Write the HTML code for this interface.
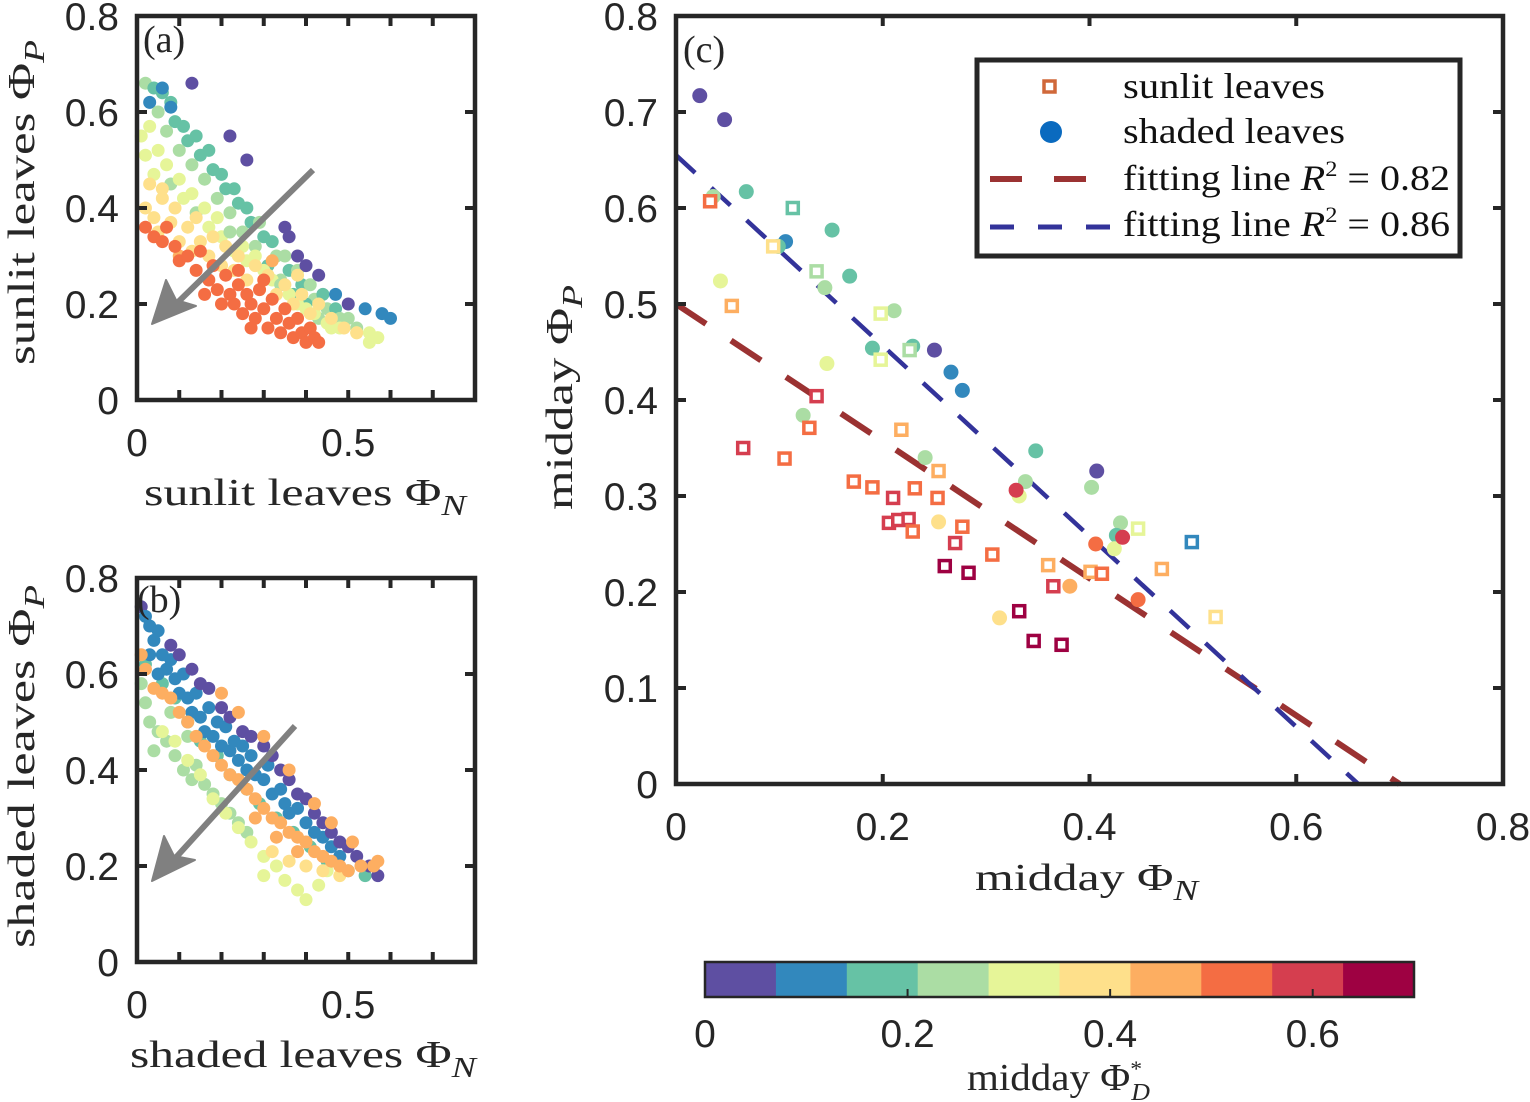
<!DOCTYPE html>
<html><head><meta charset="utf-8"><style>
html,body{margin:0;padding:0;background:#fff;}
svg{display:block;}
.tk{font-family:"Liberation Sans",sans-serif;font-size:39px;fill:#262626;}
.lb{font-family:"Liberation Serif",serif;font-size:38px;fill:#262626;}
.lg{font-family:"Liberation Serif",serif;font-size:36px;fill:#111;}
</style></head><body>
<svg id="fig" width="1530" height="1102" viewBox="0 0 1530 1102" xmlns="http://www.w3.org/2000/svg">
<g id="marksA"></g>
<g id="marksB"></g>
<g id="marksC"></g>
<g id="axes"></g>
<g stroke="#808080" fill="#808080">
<line x1="313" y1="170" x2="172" y2="308" stroke-width="6"/>
<polygon points="152,324 166,280 176,300 196,306" stroke-width="2" stroke-linejoin="round"/>
</g>
<g stroke="#808080" fill="#808080">
<line x1="295" y1="726" x2="170" y2="864" stroke-width="6"/>
<polygon points="152,881 164,836 174,856 195,860" stroke-width="2" stroke-linejoin="round"/>
</g>
<text class="lb" x="143" y="52" font-size="34">(a)</text>
<text class="lb" x="137" y="612" font-size="34">(b)</text>
<text class="lb" x="683" y="62" font-size="34">(c)</text>
<text class="lb" x="144" y="505" textLength="322" lengthAdjust="spacingAndGlyphs">sunlit leaves Φ<tspan font-style="italic" font-size="28" dy="10">N</tspan></text>
<text class="lb" x="130" y="1067" textLength="346" lengthAdjust="spacingAndGlyphs">shaded leaves Φ<tspan font-style="italic" font-size="28" dy="10">N</tspan></text>
<text class="lb" x="975" y="890" textLength="223" lengthAdjust="spacingAndGlyphs">midday Φ<tspan font-style="italic" font-size="28" dy="10">N</tspan></text>
<text class="lb" transform="translate(34,365) rotate(-90)" textLength="325" lengthAdjust="spacingAndGlyphs">sunlit leaves Φ<tspan font-style="italic" font-size="28" dy="10">P</tspan></text>
<text class="lb" transform="translate(34,948) rotate(-90)" textLength="363" lengthAdjust="spacingAndGlyphs">shaded leaves Φ<tspan font-style="italic" font-size="28" dy="10">P</tspan></text>
<text class="lb" transform="translate(572,510) rotate(-90)" textLength="225" lengthAdjust="spacingAndGlyphs">midday Φ<tspan font-style="italic" font-size="28" dy="10">P</tspan></text>
<g>
<rect x="977" y="60" width="483" height="196" fill="#fff" stroke="#262626" stroke-width="5"/>
<rect x="1044" y="81" width="11" height="11" fill="none" stroke="#d0683a" stroke-width="3.5"/>
<text class="lg" x="1123" y="98" textLength="202" lengthAdjust="spacingAndGlyphs">sunlit leaves</text>
<circle cx="1051" cy="132" r="11" fill="#0a6abf"/>
<text class="lg" x="1123" y="143" textLength="222" lengthAdjust="spacingAndGlyphs">shaded leaves</text>
<line x1="990" y1="179" x2="1087" y2="179" stroke="#9b3232" stroke-width="6" stroke-dasharray="32,32"/>
<text class="lg" x="1123" y="190" textLength="327" lengthAdjust="spacingAndGlyphs">fitting line <tspan font-style="italic">R</tspan><tspan font-size="22" dy="-14">2</tspan><tspan dy="14"> = 0.82</tspan></text>
<line x1="990" y1="227" x2="1110" y2="227" stroke="#33339a" stroke-width="5" stroke-dasharray="24,24"/>
<text class="lg" x="1123" y="236" textLength="327" lengthAdjust="spacingAndGlyphs">fitting line <tspan font-style="italic">R</tspan><tspan font-size="22" dy="-14">2</tspan><tspan dy="14"> = 0.86</tspan></text>
</g>
<g id="cbar"></g>
<text class="lb" x="967" y="1090" font-size="33" textLength="183" lengthAdjust="spacingAndGlyphs">midday Φ<tspan font-size="22" dy="-14">*</tspan><tspan font-style="italic" font-size="24" dx="-10" dy="24">D</tspan></text>
</svg>
<script>
const NS="http://www.w3.org/2000/svg";
const palette=["#5e4fa2","#3288bd","#66c2a5","#abdda4","#e6f598","#fee08b","#fdae61","#f46d43","#d53e4f","#9e0142"];
// Panel (c) data: [PhiN, PhiP, colorClass]
const shadedC=[[.023,.717,0],[.047,.692,0],[.068,.617,2],[.036,.612,3],[.106,.565,1],[.099,.56,2],[.043,.524,4],[.151,.577,2],[.168,.529,2],[.144,.517,3],[.211,.493,3],[.19,.454,2],[.229,.456,2],[.25,.452,0],[.266,.429,1],[.277,.41,1],[.146,.438,4],[.123,.384,3],[.241,.34,3],[.348,.347,2],[.407,.326,0],[.338,.315,3],[.402,.309,3],[.332,.3,4],[.329,.306,8],[.43,.272,3],[.426,.259,2],[.424,.245,4],[.432,.257,8],[.406,.25,7],[.254,.273,5],[.381,.206,6],[.447,.192,7],[.313,.173,5]];
const sunlitC=[[.033,.607,7],[.113,.6,2],[.094,.56,5],[.136,.534,3],[.054,.498,6],[.198,.49,4],[.198,.442,4],[.226,.452,3],[.136,.404,8],[.129,.371,7],[.218,.369,6],[.065,.35,8],[.105,.339,7],[.172,.315,7],[.19,.309,7],[.231,.308,7],[.254,.326,6],[.253,.298,7],[.21,.298,8],[.206,.272,8],[.215,.275,8],[.225,.276,8],[.229,.263,7],[.277,.268,7],[.27,.251,8],[.26,.227,9],[.283,.22,9],[.306,.239,7],[.36,.228,6],[.365,.206,8],[.401,.221,6],[.412,.219,7],[.47,.224,6],[.447,.266,4],[.499,.252,1],[.522,.174,5],[.332,.18,9],[.346,.149,9],[.373,.145,9]];
const fitRed=[[0,.5],[.7,0]];
const fitBlue=[[0,.655],[.66,0]];
// Panel (a) data
const pointsA=[[.02,.66,3],[.04,.65,2],[.03,.62,1],[.06,.64,2],[.05,.60,3],[.08,.62,2],[.09,.58,2],[.07,.56,3],[.11,.57,2],[.12,.54,2],[.10,.52,3],[.14,.55,2],[.15,.51,2],[.13,.49,3],[.17,.52,2],[.18,.48,2],[.16,.46,3],[.20,.47,2],[.21,.44,2],[.19,.42,3],[.23,.44,2],[.24,.41,2],[.22,.39,3],[.26,.40,2],[.27,.37,2],[.25,.35,3],[.29,.37,3],[.30,.34,2],[.28,.32,3],[.32,.33,2],[.33,.30,3],[.31,.28,2],[.35,.30,3],[.36,.27,2],[.34,.25,3],[.38,.27,3],[.39,.24,2],[.37,.22,2],[.41,.24,3],[.42,.21,3],[.40,.20,2],[.44,.22,2],[.45,.19,3],[.43,.17,3],[.47,.19,2],[.48,.17,3],[.46,.15,4],[.50,.17,3],[.52,.15,3],[.55,.14,4],[.57,.13,4],[.60,.17,1],[.58,.18,1],[.54,.19,1],[.50,.20,0],[.47,.22,1],[.43,.26,0],[.40,.28,0],[.38,.30,0],[.36,.34,0],[.35,.36,0],[.26,.50,0],[.22,.55,0],[.13,.66,0],[.06,.65,1],[.08,.61,1],
[.01,.55,4],[.03,.57,4],[.02,.51,4],[.05,.52,4],[.04,.47,4],[.07,.49,4],[.08,.45,3],[.10,.46,4],[.11,.42,4],[.13,.43,4],[.14,.39,3],[.16,.40,4],[.17,.36,4],[.19,.38,4],[.20,.34,4],[.22,.35,3],[.23,.31,4],[.25,.32,4],[.26,.29,4],[.28,.30,4],[.30,.27,4],[.32,.25,4],[.34,.24,3],[.36,.22,4],[.38,.20,4],[.40,.19,4],[.42,.18,4],[.45,.16,4],[.48,.15,4],[.52,.14,4],[.55,.12,4],
[.02,.40,5],[.04,.38,5],[.06,.42,5],[.05,.35,5],[.08,.37,5],[.09,.40,5],[.10,.33,5],[.12,.36,5],[.13,.31,5],[.14,.38,5],[.15,.33,5],[.17,.30,5],[.18,.34,5],[.20,.28,5],[.21,.32,5],[.23,.27,5],[.24,.30,5],[.26,.25,5],[.28,.28,5],[.29,.23,5],[.31,.26,5],[.33,.22,5],[.35,.24,5],[.37,.20,5],[.39,.22,5],[.41,.18,5],[.43,.20,5],[.46,.17,5],[.49,.15,5],[.52,.14,5],[.38,.26,5],[.32,.29,6],[.10,.30,6],[.06,.44,5],[.03,.45,5],
[.02,.36,7],[.04,.34,7],[.06,.33,7],[.07,.36,7],[.09,.32,7],[.10,.29,7],[.12,.30,7],[.14,.27,7],[.15,.31,7],[.17,.25,7],[.18,.28,7],[.19,.23,7],[.21,.26,7],[.22,.22,7],[.23,.20,7],[.24,.24,7],[.25,.18,7],[.26,.22,7],[.27,.20,7],[.28,.17,7],[.29,.23,7],[.30,.19,7],[.31,.15,7],[.32,.21,7],[.33,.17,7],[.34,.14,7],[.35,.19,7],[.36,.16,7],[.37,.13,7],[.38,.17,7],[.39,.14,7],[.40,.12,7],[.41,.15,7],[.42,.13,7],[.43,.12,7],[.20,.20,7],[.24,.27,7],[.27,.15,7],[.30,.25,7],[.16,.22,7]];
// Panel (b) data
const pointsB=[[.02,.62,2],[.06,.58,2],[.09,.55,2],[.12,.50,2],[.15,.46,2],[.19,.43,2],[.22,.39,2],[.26,.36,2],[.29,.33,2],[.33,.30,2],[.37,.27,2],[.41,.24,2],[.45,.21,2],[.50,.19,2],[.54,.18,2],
[.01,.58,3],[.02,.54,3],[.03,.50,3],[.05,.48,3],[.07,.46,3],[.04,.44,3],[.09,.43,3],[.11,.40,3],[.13,.38,3],[.14,.41,3],[.16,.37,3],[.18,.35,3],[.20,.33,3],[.22,.31,3],[.24,.29,3],[.26,.27,3],[.08,.52,3],[.12,.47,3],
[.06,.48,4],[.09,.46,4],[.12,.42,4],[.15,.39,4],[.18,.34,4],[.21,.31,4],[.24,.28,4],[.27,.25,4],[.30,.22,4],[.33,.20,4],[.35,.17,4],[.38,.15,4],[.40,.13,4],[.43,.16,4],[.45,.19,4],[.30,.18,4],
[.32,.23,5],[.36,.21,5],[.40,.20,5],[.44,.19,5],[.48,.18,5],
[.01,.74,0],[.02,.72,1],[.03,.70,1],[.04,.67,1],[.03,.64,1],[.05,.69,1],[.06,.64,1],[.07,.61,1],[.05,.60,1],[.08,.63,1],[.09,.59,1],[.10,.56,1],[.11,.60,1],[.12,.55,1],[.13,.52,1],[.14,.56,1],[.15,.51,1],[.16,.48,1],[.17,.53,1],[.18,.47,1],[.19,.50,1],[.20,.45,1],[.21,.49,1],[.22,.44,1],[.23,.46,1],[.24,.42,1],[.25,.45,1],[.26,.40,1],[.27,.43,1],[.28,.39,1],[.30,.38,1],[.31,.41,1],[.32,.35,1],[.34,.36,1],[.35,.33,1],[.36,.31,1],[.38,.32,1],[.40,.29,1],[.42,.27,1],[.44,.26,1],[.46,.24,1],[.48,.22,1],
[.08,.66,0],[.10,.64,0],[.13,.61,0],[.15,.58,0],[.17,.57,0],[.20,.53,0],[.22,.51,0],[.25,.48,0],[.27,.47,0],[.30,.45,0],[.32,.43,0],[.34,.40,0],[.36,.38,0],[.38,.35,0],[.40,.34,0],[.42,.31,0],[.44,.29,0],[.46,.27,0],[.48,.25,0],[.50,.24,0],[.52,.22,0],[.55,.20,0],[.57,.18,0],
[.01,.64,6],[.02,.61,6],[.04,.57,6],[.06,.56,6],[.08,.55,6],[.10,.52,6],[.12,.50,6],[.14,.47,6],[.16,.45,6],[.18,.43,6],[.20,.41,6],[.22,.39,6],[.24,.38,6],[.26,.36,6],[.28,.34,6],[.30,.32,6],[.32,.30,6],[.34,.29,6],[.36,.27,6],[.38,.26,6],[.40,.25,6],[.42,.23,6],[.44,.22,6],[.46,.21,6],[.48,.20,6],[.50,.19,6],[.53,.20,6],[.56,.20,6],[.57,.21,6],[.20,.56,6],[.24,.52,6],[.30,.47,6],[.36,.40,6],[.42,.33,6],[.46,.29,6],[.51,.25,6],[.28,.30,6],[.33,.26,6],[.38,.23,6]];
const ticksSmallY=[0,0.2,0.4,0.6,0.8];
const ticksSmallX=[0,0.5];
const ticksCX=[0,0.2,0.4,0.6,0.8];
const ticksCY=[0,0.1,0.2,0.3,0.4,0.5,0.6,0.7,0.8];
const cbarTicks=[0,0.2,0.4,0.6];
const cbarEdges=[0,0.07,0.14,0.21,0.28,0.35,0.42,0.49,0.56,0.63,0.7];

function mk(tag,attrs,parent){const e=document.createElementNS(NS,tag);for(const k in attrs)e.setAttribute(k,attrs[k]);parent.appendChild(e);return e;}
function scale(d0,d1,r0,r1){return v=>r0+(v-d0)/(d1-d0)*(r1-r0);}
const axA={x:scale(0,0.8,137,475),y:scale(0,0.8,400,16)};
const axB={x:scale(0,0.8,137,475),y:scale(0,0.8,962,578)};
const axC={x:scale(0,0.8,676,1503),y:scale(0,0.8,784,16)};
const cx=scale(0,0.7,705,1414);

function drawDots(g,pts,ax,r,name){
  pts.forEach(p=>{
    const c=mk('circle',{cx:ax.x(p[0]),cy:ax.y(p[1]),r:r,fill:palette[p[2]]},g);
    
    
  });
}
drawDots(document.getElementById('marksA'),pointsA,axA,6.5,'sunlit-point');
drawDots(document.getElementById('marksB'),pointsB,axB,6.5,'shaded-point');
const gC=document.getElementById('marksC');
const lr=mk('line',{x1:axC.x(fitRed[0][0]),y1:axC.y(fitRed[0][1]),x2:axC.x(fitRed[1][0]),y2:axC.y(fitRed[1][1]),stroke:'#9b3232','stroke-width':6,'stroke-dasharray':'36,30'},gC);


const lb=mk('line',{x1:axC.x(fitBlue[0][0]),y1:axC.y(fitBlue[0][1]),x2:axC.x(fitBlue[1][0]),y2:axC.y(fitBlue[1][1]),stroke:'#33339a','stroke-width':4.5,'stroke-dasharray':'26,22'},gC);


shadedC.forEach(p=>{
  const c=mk('circle',{cx:axC.x(p[0]),cy:axC.y(p[1]),r:7.5,fill:palette[p[2]]},gC);
  
  
});
sunlitC.forEach(p=>{
  const s=mk('rect',{x:axC.x(p[0])-5.5,y:axC.y(p[1])-5.5,width:11,height:11,fill:'#fff',stroke:palette[p[2]],'stroke-width':3.5},gC);
  
  
});

const gAx=document.getElementById('axes');
function frame(ax,x0,x1,y0,y1,xt,yt,minorX){
  const r=mk('rect',{x:x0,y:y0,width:x1-x0,height:y1-y0,fill:'none',stroke:'#262626','stroke-width':4.5},gAx);
  
  
  minorX.forEach(v=>{const X=ax.x(v);
    mk('line',{x1:X,y1:y1,x2:X,y2:y1-10,stroke:'#262626','stroke-width':4},gAx);
    mk('line',{x1:X,y1:y0,x2:X,y2:y0+10,stroke:'#262626','stroke-width':4},gAx);});
  yt.forEach(v=>{const Y=ax.y(v);
    mk('line',{x1:x0,y1:Y,x2:x0+10,y2:Y,stroke:'#262626','stroke-width':4},gAx);
    mk('line',{x1:x1,y1:Y,x2:x1-10,y2:Y,stroke:'#262626','stroke-width':4},gAx);
    const t=mk('text',{x:x0-18,y:Y+14,'text-anchor':'end',class:'tk'},gAx);t.textContent=String(v);
    
    });
  xt.forEach(v=>{const X=ax.x(v);
    const t=mk('text',{x:X,y:y1+56,'text-anchor':'middle',class:'tk'},gAx);t.textContent=String(v);
    
    });
}
frame(axA,137,475,16,400,ticksSmallX,ticksSmallY,[0.1,0.2,0.3,0.4,0.5,0.6,0.7]);
frame(axB,137,475,578,962,ticksSmallX,ticksSmallY,[0.1,0.2,0.3,0.4,0.5,0.6,0.7]);
frame(axC,676,1503,16,784,ticksCX,ticksCY,[0.2,0.4,0.6]);

const gCb=document.getElementById('cbar');
for(let i=0;i<cbarEdges.length-1;i++){
  const r=mk('rect',{x:cx(cbarEdges[i]),y:963,width:cx(cbarEdges[i+1])-cx(cbarEdges[i])+0.5,height:33,fill:palette[i]},gCb);
  
  
}
mk('rect',{x:705,y:962,width:709,height:35,fill:'none',stroke:'#262626','stroke-width':2.5},gCb);
cbarTicks.forEach(v=>{const X=cx(v);
  mk('line',{x1:X,y1:997,x2:X,y2:989,stroke:'#262626','stroke-width':2},gCb);
  const t=mk('text',{x:X,y:1047,'text-anchor':'middle',class:'tk',"font-size":"35"},gCb);t.textContent=String(v);
  
  });
</script>
</body></html>
